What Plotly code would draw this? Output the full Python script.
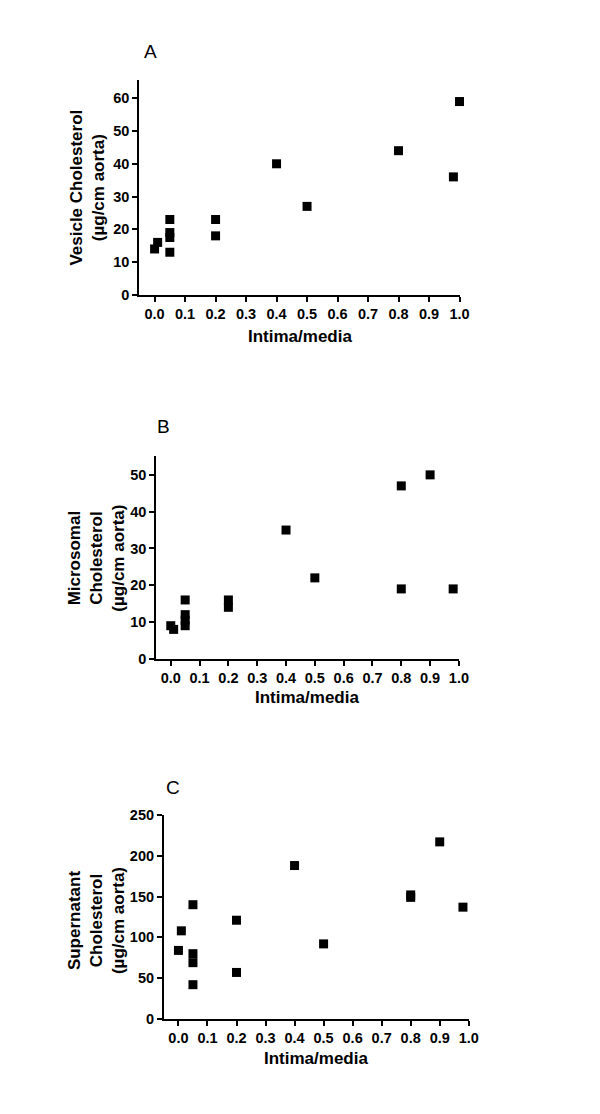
import plotly.graph_objects as go

# Panel A: Vesicle cholesterol
a_x = [0.0, 0.01, 0.05, 0.05, 0.05, 0.05, 0.2, 0.2, 0.4, 0.5, 0.8, 0.98, 1.0]
a_y = [14, 16, 23, 19, 17.5, 13, 23, 18, 40, 27, 44, 36, 59]

# Panel B: Microsomal cholesterol
b_x = [0.0, 0.01, 0.05, 0.05, 0.05, 0.05, 0.2, 0.2, 0.4, 0.5, 0.8, 0.8, 0.9, 0.98]
b_y = [9, 8, 16, 12, 10.5, 9, 16, 14, 35, 22, 47, 19, 50, 19]

# Panel C: Supernatant cholesterol
c_x = [0.0, 0.01, 0.05, 0.05, 0.05, 0.05, 0.2, 0.2, 0.4, 0.5, 0.8, 0.8, 0.9, 0.98]
c_y = [84, 108, 140, 80, 69, 42, 121, 57, 188, 92, 152, 149, 217, 137]

x_ticks = [0.0, 0.1, 0.2, 0.3, 0.4, 0.5, 0.6, 0.7, 0.8, 0.9, 1.0]
x_tick_labels = ["0.0", "0.1", "0.2", "0.3", "0.4", "0.5", "0.6", "0.7", "0.8", "0.9", "1.0"]
a_yticks = [0, 10, 20, 30, 40, 50, 60]
b_yticks = [0, 10, 20, 30, 40, 50]
c_yticks = [0, 50, 100, 150, 200, 250]

panel_letters = ["A", "B", "C"]
y_titles = ["Vesicle Cholesterol<br>(µg/cm aorta)",
            "Microsomal<br>Cholesterol<br>(µg/cm aorta)",
            "Supernatant<br>Cholesterol<br>(µg/cm aorta)"]
x_title = "Intima/media"

W, H = 600, 1114
FONT = "Liberation Sans, Arial, sans-serif"

def px_x(p):
    return p / W

def px_y(p):
    return 1 - p / H

fig = go.Figure()

panels = [
    dict(x=a_x, y=a_y, yt=a_yticks, xd=[141.7, 467.3], yd=[291, 73.3], yr=[0, 65.5]),
    dict(x=b_x, y=b_y, yt=b_yticks, xd=[159, 466.7], yd=[660.3, 455], yr=[0, 55]),
    dict(x=c_x, y=c_y, yt=c_yticks, xd=[166.7, 476.7], yd=[1025.7, 818.7], yr=[0, 250]),
]

letter_pos = [(153, 44), (166, 425), (176, 791)]
ytitle_pos = [(88.7, 182), (98.3, 558), (98, 926)]
xtitle_pos = [(305, 333), (312, 700), (321, 1066)]

for i, p in enumerate(panels):
    n = "" if i == 0 else str(i + 1)
    fig.add_trace(go.Scatter(
        x=p["x"], y=p["y"], mode="markers",
        marker=dict(symbol="square", size=9, color="black"),
        xaxis="x" + n, yaxis="y" + n, cliponaxis=False, showlegend=False))
    axis_common = dict(showgrid=False, zeroline=False, showline=True,
                       linecolor="black", linewidth=2, ticks="outside",
                       ticklen=5, tickwidth=2, tickcolor="black",
                       tickfont=dict(family=FONT, size=14.5, color="black", weight="bold"))
    fig.layout["xaxis" + n] = dict(
        domain=[px_x(p["xd"][0]), px_x(p["xd"][1])],
        range=[-0.05, 1.0], anchor="y" + n,
        tickvals=x_ticks, ticktext=x_tick_labels, **axis_common)
    fig.layout["yaxis" + n] = dict(
        domain=[px_y(p["yd"][0]), px_y(p["yd"][1])],
        range=p["yr"], anchor="x" + n,
        tickvals=p["yt"], **axis_common)
    fig.add_annotation(x=px_x(letter_pos[i][0]), y=px_y(letter_pos[i][1]),
                       xref="paper", yref="paper", text=panel_letters[i],
                       showarrow=False, xanchor="center", yanchor="middle",
                       font=dict(family=FONT, size=19, color="black"))
    fig.add_annotation(x=px_x(ytitle_pos[i][0]), y=px_y(ytitle_pos[i][1]),
                       xref="paper", yref="paper", text=y_titles[i],
                       textangle=-90, showarrow=False, xanchor="center", yanchor="middle",
                       font=dict(family=FONT, size=17, color="black", weight="bold"))
    fig.add_annotation(x=px_x(xtitle_pos[i][0]), y=px_y(xtitle_pos[i][1]),
                       xref="paper", yref="paper", text=x_title,
                       showarrow=False, xanchor="center", yanchor="middle",
                       font=dict(family=FONT, size=17, color="black", weight="bold"))

fig.update_layout(width=W, height=H, margin=dict(l=0, r=0, t=0, b=0),
                  paper_bgcolor="white", plot_bgcolor="white")

fig.write_html("out.html", config={"displayModeBar": False},
               post_script="document.body.style.margin='0';document.body.style.overflow='hidden';")
